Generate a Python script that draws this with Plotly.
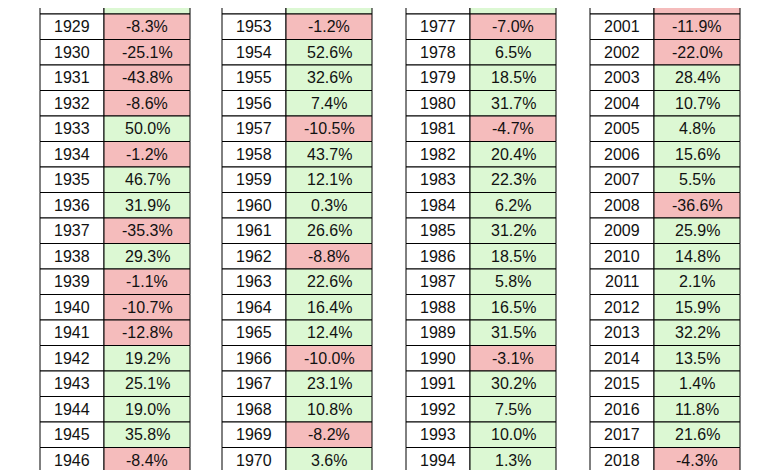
import plotly.graph_objects as go

start_years = [1928, 1952, 1976, 2000]
returns_1 = [43.8,-8.3,-25.1,-43.8,-8.6,50.0,-1.2,46.7,31.9,-35.3,29.3,-1.1,-10.7,-12.8,19.2,25.1,19.0,35.8,-8.4]
returns_2 = [18.2,-1.2,52.6,32.6,7.4,-10.5,43.7,12.1,0.3,26.6,-8.8,22.6,16.4,12.4,-10.0,23.1,10.8,-8.2,3.6]
returns_3 = [23.8,-7.0,6.5,18.5,31.7,-4.7,20.4,22.3,6.2,31.2,18.5,5.8,16.5,31.5,-3.1,30.2,7.5,10.0,1.3]
returns_4 = [-9.0,-11.9,-22.0,28.4,10.7,4.8,15.6,5.5,-36.6,25.9,14.8,2.1,15.9,32.2,13.5,1.4,11.8,21.6,-4.3]
groups = [returns_1, returns_2, returns_3, returns_4]

GREEN = "#dcf8d3"
RED = "#f5bcbc"
group_left = [32, 214, 398, 582]
year_w, val_w = 64, 86
row_h = 25.5
top0 = -19.5

fig = go.Figure()
shapes, annots = [], []
for g, vals in enumerate(groups):
    x0 = group_left[g]
    for i, v in enumerate(vals):
        yt = top0 + row_h * i
        yb = yt + row_h
        shapes.append(dict(type="rect", x0=x0, x1=x0 + year_w, y0=yt, y1=yb,
                           fillcolor="white", line=dict(color="black", width=1), layer="below"))
        shapes.append(dict(type="rect", x0=x0 + year_w, x1=x0 + year_w + val_w, y0=yt, y1=yb,
                           fillcolor=GREEN if v >= 0 else RED, line=dict(color="black", width=1), layer="below"))
        annots.append(dict(x=x0 + year_w / 2, y=(yt + yb) / 2, text=str(start_years[g] + i),
                           showarrow=False, xanchor="center", yanchor="middle"))
        annots.append(dict(x=x0 + year_w + val_w / 2, y=(yt + yb) / 2, text=f"{v:.1f}%",
                           showarrow=False, xanchor="center", yanchor="middle"))

fig.add_trace(go.Scatter(x=[0, 780], y=[0, 470], mode="markers", marker=dict(opacity=0), hoverinfo="skip"))
fig.update_layout(
    width=780, height=470, margin=dict(l=0, r=0, t=0, b=0),
    paper_bgcolor="white", plot_bgcolor="white", showlegend=False,
    xaxis=dict(range=[0, 780], visible=False, fixedrange=True),
    yaxis=dict(range=[470, 0], visible=False, fixedrange=True),
    shapes=shapes, annotations=annots,
    font=dict(family="Liberation Sans, Arial", size=16, color="#111"),
)
fig.write_html("out.html")
